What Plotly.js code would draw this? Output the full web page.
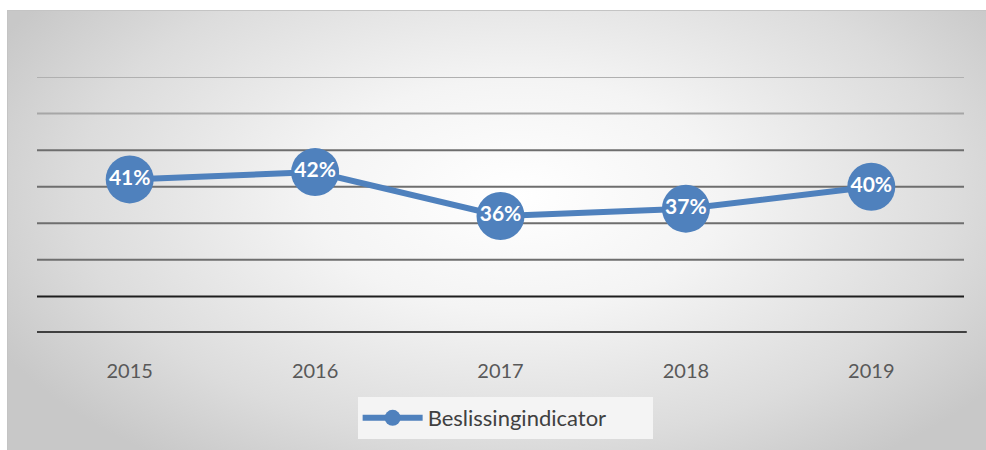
<!DOCTYPE html>
<html>
<head>
<meta charset="utf-8">
<script src="https://cdn.plot.ly/plotly-3.0.1.min.js"></script>
<style>
  html, body { margin: 0; padding: 0; background: #ffffff; }
  #bg {
    position: absolute; left: 7px; top: 10px; width: 979px; height: 440px;
    border-top: 1px solid #c4c4c4; border-left: 1px solid #c4c4c4;
    box-sizing: border-box;
    background: radial-gradient(ellipse 60% 75% at 52% 42%, #ffffff 0%, #f4f4f4 35%, #dcdcdc 75%, #c8c8c8 100%);
  }
  #chart { position: absolute; left: 0; top: 0; width: 986px; height: 450px; }
</style>
</head>
<body>
<div id="bg"></div>
<div id="chart"></div>
<script>
// Data
const years = ['2015', '2016', '2017', '2018', '2019'];
const values = [0.41, 0.42, 0.36, 0.37, 0.40];
const labels = ['41%', '42%', '36%', '37%', '40%'];
const seriesName = 'Beslissingindicator';

// Gridline levels (axis values) and their colours
const gridValues = [0.25, 0.30, 0.35, 0.40, 0.45, 0.50, 0.55];
const gridColors = ['#1e1e1e', '#6e6e6e', '#6e6e6e', '#6e6e6e', '#6e6e6e', '#a6a6a6', '#b0b0b0'];

const shapes = gridValues.map((v, i) => ({
  type: 'line', xref: 'paper', yref: 'y', x0: 0, x1: 1, y0: v, y1: v,
  line: { color: gridColors[i], width: 2 }, layer: 'below'
}));

const trace = {
  x: years, y: values, text: labels, name: seriesName,
  type: 'scatter', mode: 'lines+markers+text',
  line: { color: '#4f81bd', width: 6 },
  marker: { color: '#4f81bd', size: 48 },
  textposition: 'middle center',
  textfont: { family: 'Lato, sans-serif', size: 21, color: '#ffffff', weight: 'bold' },
  cliponaxis: false
};

const layout = {
  width: 986, height: 450,
  margin: { l: 37, r: 22, t: 77, b: 117, autoexpand: false },
  paper_bgcolor: 'rgba(0,0,0,0)', plot_bgcolor: 'rgba(0,0,0,0)',
  showlegend: true,
  legend: {
    orientation: 'h', x: 0.505, xanchor: 'center', y: -0.25, yanchor: 'top',
    bgcolor: '#f4f4f4', font: { family: 'Lato, sans-serif', size: 22, color: '#404040' },
    itemwidth: 60, entrywidth: 220
  },
  xaxis: {
    type: 'category', range: [-0.5, 4.5], showgrid: false, zeroline: false,
    showline: false, ticks: '',
    tickfont: { family: 'Lato, sans-serif', size: 20, color: '#595959' },
    ticklabelstandoff: 24
  },
  yaxis: {
    range: [0.2, 0.55], showgrid: false, zeroline: false, showticklabels: false,
    showline: false, ticks: ''
  },
  shapes: shapes.concat([{
    type: 'line', xref: 'paper', yref: 'y', x0: 0, x1: 1.003, y0: 0.2, y1: 0.2,
    line: { color: '#404040', width: 4 }, layer: 'below'
  }])
};

Plotly.newPlot('chart', [trace], layout, { displayModeBar: false, staticPlot: true });
</script>
</body>
</html>
